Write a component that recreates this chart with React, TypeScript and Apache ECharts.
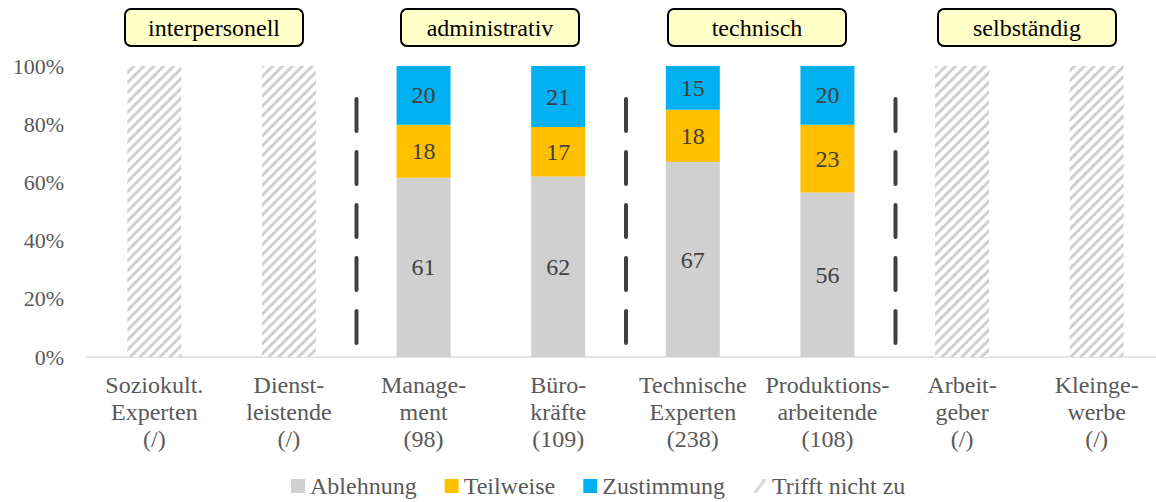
import React, { useEffect, useRef } from "react";
import * as echarts from "echarts";

const categories = [
  "Soziokult.\nExperten\n(/)",
  "Dienst-\nleistende\n(/)",
  "Manage-\nment\n(98)",
  "Büro-\nkräfte\n(109)",
  "Technische\nExperten\n(238)",
  "Produktions-\narbeitende\n(108)",
  "Arbeit-\ngeber\n(/)",
  "Kleinge-\nwerbe\n(/)",
];
const ablehnung = [null, null, 61, 62, 67, 56, null, null];
const teilweise = [null, null, 18, 17, 18, 23, null, null];
const zustimmung = [null, null, 20, 21, 15, 20, null, null];
const trifftNicht = [100, 100, null, null, null, null, 100, 100];
const yTicks = [0, 20, 40, 60, 80, 100];
const groups = ["interpersonell", "administrativ", "technisch", "selbständig"];

const FONT = "Liberation Serif";

function totals(i: number) {
  const a = ablehnung[i] ?? 0;
  const b = teilweise[i] ?? 0;
  const c = zustimmung[i] ?? 0;
  return a + b + c;
}

function norm(arr: (number | null)[]) {
  return arr.map((v, i) => (v == null ? null : { value: (v / totals(i)) * 100, raw: v }));
}

export default function App() {
  const ref = useRef<HTMLDivElement>(null);
  useEffect(() => {
    if (!ref.current) return;
    const chart = echarts.init(ref.current, undefined, { renderer: "svg" });
    const labelCfg = {
      show: true,
      position: "inside",
      color: "#404040",
      fontFamily: FONT,
      fontSize: 24,
      formatter: (p: any) => (p.data && p.data.raw != null ? String(p.data.raw) : ""),
    };
    const boxLefts = [124, 400, 667, 937];
    const sepX = [356.5, 626, 895.5];
    const graphics: any[] = [];
    groups.forEach((g, i) => {
      graphics.push({
        type: "group",
        left: boxLefts[i],
        top: 8,
        children: [
          {
            type: "rect",
            shape: { x: 0, y: 0, width: 178, height: 37, r: 6 },
            style: { fill: "#FFFFC8", stroke: "#000", lineWidth: 2 },
          },
          {
            type: "text",
            x: 89,
            y: 19,
            style: {
              text: g,
              fill: "#000",
              fontFamily: FONT,
              fontSize: 24,
              align: "center",
              verticalAlign: "middle",
            },
          },
        ],
      });
    });
    sepX.forEach((x) => {
      graphics.push({
        type: "line",
        shape: { x1: x, y1: 99, x2: x, y2: 343 },
        style: { stroke: "#404040", lineWidth: 4, lineDash: [32, 21], lineCap: "round" },
      });
    });
    chart.setOption({
      animation: false,
      textStyle: { fontFamily: FONT },
      grid: { left: 87, right: 0, top: 66, bottom: 145 },
      xAxis: {
        type: "category",
        data: categories,
        axisLine: { lineStyle: { color: "#d9d9d9", width: 1.5 } },
        axisTick: { show: false },
        axisLabel: {
          color: "#595959",
          fontFamily: FONT,
          fontSize: 24,
          lineHeight: 27,
          margin: 14,
          interval: 0,
        },
      },
      yAxis: {
        type: "value",
        min: yTicks[0],
        max: yTicks[yTicks.length - 1],
        interval: 20,
        axisLine: { show: false },
        axisTick: { show: false },
        splitLine: { show: false },
        axisLabel: {
          color: "#595959",
          fontFamily: FONT,
          fontSize: 22,
          margin: 23,
          formatter: "{value}%",
        },
      },
      legend: {
        left: 286,
        top: 469,
        itemWidth: 14,
        itemHeight: 14,
        itemGap: 28,
        textStyle: { color: "#595959", fontFamily: FONT, fontSize: 24, lineHeight: 22 },
        data: [
          { name: "Ablehnung", icon: "rect" },
          { name: "Teilweise", icon: "rect" },
          { name: "Zustimmung", icon: "rect" },
          {
            name: "Trifft nicht zu",
            icon: "path://M10,0 L14,0 L4,14 L0,14 Z",
            itemStyle: { color: "#d9d9d9", decal: "none" },
          },
        ],
      },
      series: [
        {
          name: "Ablehnung",
          type: "bar",
          stack: "s",
          barWidth: 54,
          data: norm(ablehnung),
          itemStyle: { color: "#D0D0D0" },
          label: labelCfg,
        },
        {
          name: "Teilweise",
          type: "bar",
          stack: "s",
          barWidth: 54,
          data: norm(teilweise),
          itemStyle: { color: "#FFC000" },
          label: labelCfg,
        },
        {
          name: "Zustimmung",
          type: "bar",
          stack: "s",
          barWidth: 54,
          data: norm(zustimmung),
          itemStyle: { color: "#00B0F0" },
          label: labelCfg,
        },
        {
          name: "Trifft nicht zu",
          type: "bar",
          stack: "s",
          barWidth: 54,
          data: trifftNicht,
          itemStyle: {
            color: "#ffffff",
            decal: {
              symbol: "rect",
              symbolSize: 1,
              color: "#D0D0D0",
              dashArrayX: [1, 0],
              dashArrayY: [3, 4],
              rotation: -Math.PI / 4,
            },
          },
        },
      ],
      graphic: graphics,
    });
    return () => chart.dispose();
  }, []);
  return (
    <div
      ref={ref}
      style={{ position: "fixed", left: 0, top: 0, width: 1164, height: 502, background: "#fff" }}
    />
  );
}
